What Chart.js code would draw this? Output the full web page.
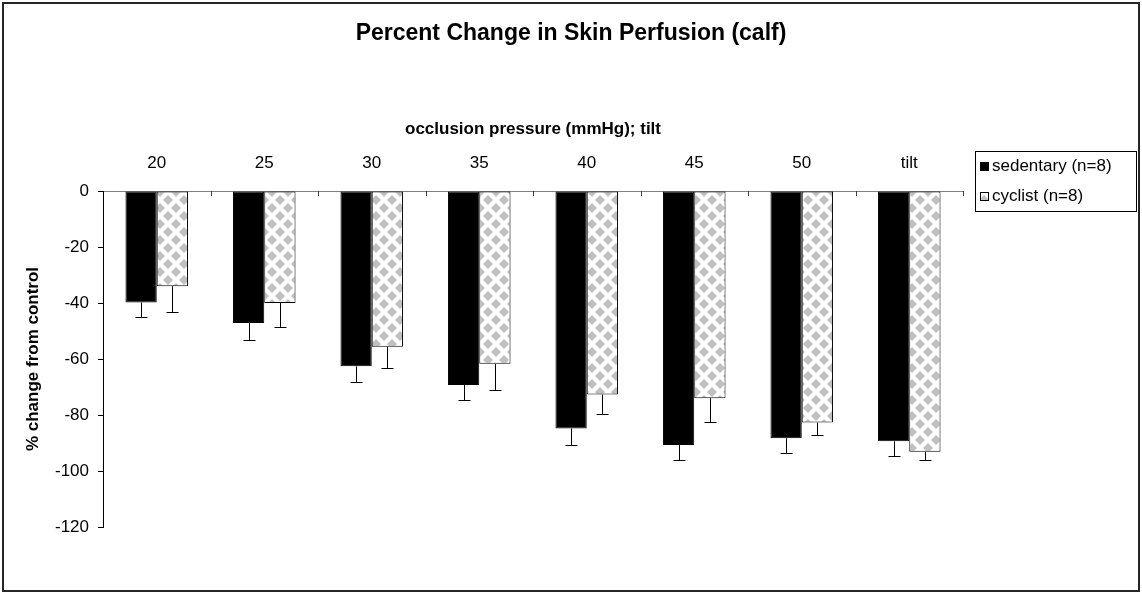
<!DOCTYPE html>
<html>
<head>
<meta charset="utf-8">
<script src="https://cdn.jsdelivr.net/npm/chart.js@4.4.1/dist/chart.umd.min.js"></script>
<style>
  html, body { margin: 0; padding: 0; background: #fff; }
  #wrap { position: relative; width: 1142px; height: 596px; }
</style>
</head>
<body>
<div id="wrap"><canvas id="chart" width="1142" height="596"></canvas></div>
<script>
// ── Data ──────────────────────────────────────────────────────────────────────
const categories = ['20', '25', '30', '35', '40', '45', '50', 'tilt'];
const sedentary = [-39.8, -47.1, -62.6, -69.3, -84.8, -90.7, -88.3, -89.4];
const sedentaryErr = [5.2, 6.0, 5.5, 5.2, 5.8, 5.5, 5.4, 5.1];
const cyclist = [-34.0, -40.0, -55.6, -61.7, -72.7, -74.0, -82.7, -93.1];
const cyclistErr = [9.1, 8.7, 7.6, 9.4, 6.9, 8.6, 4.4, 3.1];
const seriesLabels = ['sedentary (n=8)', 'cyclist (n=8)'];

const FONT = '"Liberation Sans", Arial, sans-serif';

// grey diamond checker used for the cyclist bars
function diamondPattern() {
  const c = document.createElement('canvas');
  const w = 16, h = 16;
  c.width = w; c.height = h;
  const g = c.getContext('2d');
  g.fillStyle = '#ffffff';
  g.fillRect(0, 0, w, h);
  g.fillStyle = '#c0c0c0';
  const dx = 5, dy = 5;
  [[w / 2, h / 2], [0, 0], [w, 0], [0, h], [w, h]].forEach(([cx, cy]) => {
    g.beginPath();
    g.moveTo(cx, cy - dy); g.lineTo(cx + dx, cy); g.lineTo(cx, cy + dy); g.lineTo(cx - dx, cy);
    g.closePath(); g.fill();
  });
  return g.createPattern(c, 'repeat');
}

const ctx = document.getElementById('chart').getContext('2d');
const pattern = diamondPattern();

// ── Plugins ───────────────────────────────────────────────────────────────────
const errorBars = {
  id: 'errorBars',
  afterDatasetsDraw(chart) {
    const c = chart.ctx;
    const y = chart.scales.y;
    c.save();
    c.strokeStyle = '#000';
    c.lineWidth = 1;
    chart.data.datasets.forEach((ds, di) => {
      const meta = chart.getDatasetMeta(di);
      meta.data.forEach((bar, i) => {
        const x = Math.round(bar.x) + 0.5;
        const y0 = y.getPixelForValue(ds.data[i]);
        const y1 = Math.round(y.getPixelForValue(ds.data[i] - ds.errors[i])) + 0.5;
        c.beginPath();
        c.moveTo(x, y0); c.lineTo(x, y1);
        c.moveTo(x - 6, y1); c.lineTo(x + 6, y1);
        c.stroke();
      });
    });
    c.restore();
  }
};

const categoryTicks = {
  id: 'categoryTicks',
  afterDraw(chart) {
    const c = chart.ctx;
    const xs = chart.scales.x;
    const top = chart.chartArea.top;
    c.save();
    c.strokeStyle = '#404040';
    c.lineWidth = 1;
    for (let i = 1; i <= categories.length; i++) {
      const x = Math.round(xs.getPixelForValue(i - 0.5)) + 0.5;
      c.beginPath(); c.moveTo(x, top); c.lineTo(x, top + 5); c.stroke();
    }
    c.restore();
  }
};

const boxLegend = {
  id: 'boxLegend',
  afterDraw(chart) {
    const c = chart.ctx;
    c.save();
    c.strokeStyle = '#000';
    c.lineWidth = 1;
    c.strokeRect(975.5, 151.5, 161, 60);
    c.font = '17px ' + FONT;
    c.textBaseline = 'middle';
    chart.data.datasets.forEach((ds, i) => {
      const cy = 166 + i * 30;
      c.fillStyle = ds.backgroundColor;
      c.fillRect(980, cy - 4, 9, 9);
      c.strokeRect(980.5, cy - 3.5, 8, 8);
      c.fillStyle = '#000';
      c.fillText(ds.label, 992, cy);
    });
    c.restore();
  }
};

const outerBorder = {
  id: 'outerBorder',
  afterDraw(chart) {
    const c = chart.ctx;
    c.save();
    c.strokeStyle = '#262626';
    c.lineWidth = 2;
    c.strokeRect(3, 3, 1136, 588);
    c.restore();
  }
};

// ── Chart ─────────────────────────────────────────────────────────────────────
new Chart(ctx, {
  type: 'bar',
  data: {
    labels: categories,
    datasets: [
      {
        label: seriesLabels[0],
        data: sedentary,
        errors: sedentaryErr,
        backgroundColor: '#000000',
        borderColor: '#000000',
        borderWidth: 1,
        borderSkipped: false,
      },
      {
        label: seriesLabels[1],
        data: cyclist,
        errors: cyclistErr,
        backgroundColor: pattern,
        borderColor: '#000000',
        borderWidth: 1,
        borderSkipped: false,
      },
    ],
  },
  options: {
    responsive: false,
    animation: false,
    events: [],
    layout: { padding: { left: 0, right: 0, top: 0, bottom: 69 } },
    datasets: { bar: { barPercentage: 1.0, categoryPercentage: 0.582 } },
    plugins: {
      legend: { display: false },
      tooltip: { enabled: false },
      title: {
        display: true,
        text: 'Percent Change in Skin Perfusion (calf)',
        color: '#000',
        font: { family: FONT, size: 23, weight: 'bold', lineHeight: 1.2 },
        padding: { top: 20, bottom: 0 },
      },
    },
    scales: {
      x: {
        position: 'top',
        offset: true,
        afterFit: (s) => { s.height = 143.4; },
        grid: { display: true, drawOnChartArea: false, drawTicks: false },
        border: { display: true, color: '#808080', width: 1 },
        ticks: { color: '#000', padding: 17, font: { family: FONT, size: 17, lineHeight: 1.2 } },
        title: {
          display: true,
          text: 'occlusion pressure (mmHg); tilt',
          color: '#000',
          font: { family: FONT, size: 17, weight: 'bold', lineHeight: 1.2 },
          padding: { top: 72, bottom: 0 },
        },
      },
      y: {
        min: -120,
        max: 0,
        afterFit: (s) => { s.width = 103; },
        grid: { drawOnChartArea: false, drawTicks: true, tickLength: 5, color: '#000' },
        border: { display: true, color: '#000', width: 1 },
        ticks: { stepSize: 20, color: '#000', padding: 9, font: { family: FONT, size: 17, lineHeight: 1.2 } },
        title: {
          display: true,
          text: '% change from control',
          color: '#000',
          font: { family: FONT, size: 17, weight: 'bold', lineHeight: 1.2 },
          padding: { top: 23, bottom: 0 },
        },
      },
      // empty right-hand strip that holds the legend area
      legendSpace: {
        type: 'linear',
        position: 'right',
        afterFit: (s) => { s.width = 179; },
        grid: { display: false },
        border: { display: false },
        ticks: { display: false },
      },
    },
  },
  plugins: [errorBars, categoryTicks, boxLegend, outerBorder],
});
</script>
</body>
</html>
